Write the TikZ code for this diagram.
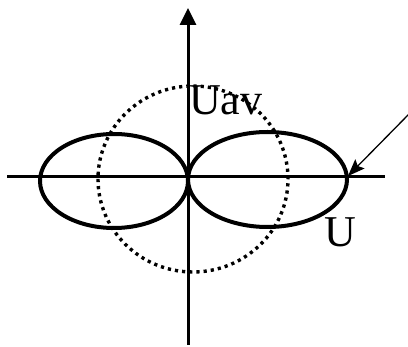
\documentclass[tikz,border=0pt]{standalone}
\usepackage{fontspec}
\setmainfont{Liberation Serif}
\usetikzlibrary{arrows.meta}
\begin{document}
\begin{tikzpicture}[x=1pt,y=-1pt,
  axis/.style={line width=3pt},
  lobe/.style={line width=4pt},
  dotcircle/.style={line width=3.4pt, dash pattern=on 3.2pt off 4pt},
  pointer/.style={line width=1.3pt, -{Stealth[length=17pt,width=13pt,inset=3pt]}},
  lbl/.style={font=\fontsize{44}{44}\selectfont, inner sep=0pt, anchor=base west}]
\useasboundingbox (0,0) rectangle (408,347);
\coordinate (hl) at (7,177);
\coordinate (hr) at (385,177);
\coordinate (vb) at (188,345);
\coordinate (vt) at (188,8);
\coordinate (rc) at (267.5,179.5);
\coordinate (lc) at (114,181);
\coordinate (cc) at (193,179);
\coordinate (pfree) at (410,113);
\coordinate (ptip) at (348,176);
% dotted circle
\draw[dotcircle] (cc) ellipse [x radius=95pt, y radius=93pt];
% axes
\draw[axis] (hl) -- (hr);
\draw[axis, -{Triangle[width=16pt,length=17pt]}] (vb) -- (vt);
% lobes
\draw[lobe] (rc) ellipse [x radius=79.5pt, y radius=47.5pt];
\draw[lobe] (lc) ellipse [x radius=74pt, y radius=47pt];
% labels
\node[lbl] (uav) at (189,115) {Uav};
\node[lbl] (u) at (324,247) {U};
% pointer
\draw[pointer] (pfree) -- (ptip);
\end{tikzpicture}
\end{document}
